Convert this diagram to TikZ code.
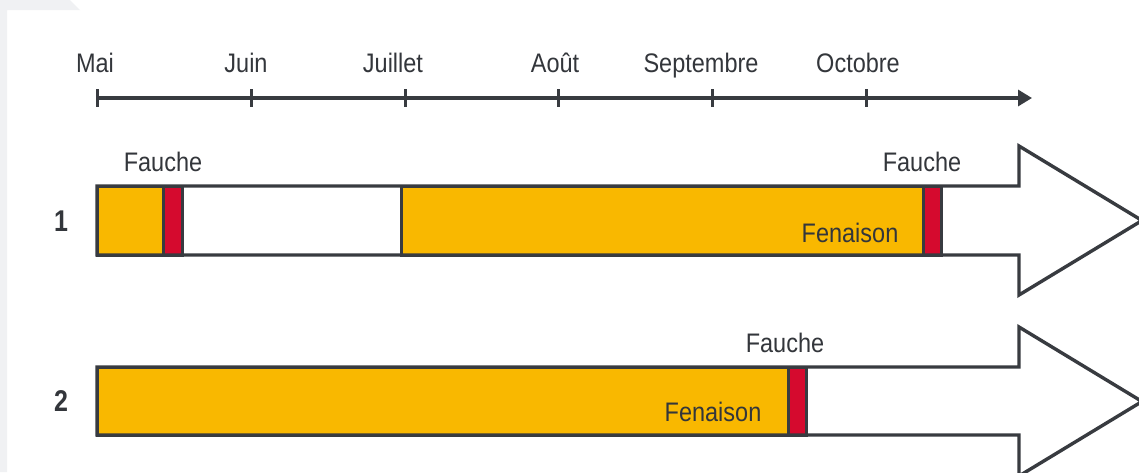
\documentclass[tikz,border=0pt]{standalone}
\usepackage{fontspec}
\setmainfont{Liberation Sans}
\usetikzlibrary{arrows.meta}
\definecolor{hay}{HTML}{F9B800}
\definecolor{cut}{HTML}{D50A2E}
\definecolor{ink}{HTML}{383B40}
\definecolor{txt}{HTML}{33363B}
\definecolor{frame}{HTML}{F0F1F3}
\newcommand{\lbl}[1]{\scalebox{1}[1.14]{#1}}
\tikzset{
  lab/.style={anchor=base, inner sep=0pt, text=txt, font=\fontsize{23.5}{28}\selectfont},
  num/.style={anchor=base, inner sep=0pt, text=txt, font=\fontsize{25}{30}\selectfont\bfseries},
  seg/.style={draw=ink, line width=3pt},
  outline/.style={draw=ink, line width=3.4pt, line join=miter},
  tick/.style={draw=ink, line width=3pt},
}
\begin{document}
\begin{tikzpicture}[x=1pt,y=-1pt]
\useasboundingbox (0,0) rectangle (1139,472);
\clip (0,0) rectangle (1139,472);
\fill[white] (0,0) rectangle (1139,472);
\fill[frame] (0,0) -- (70,0) -- (80,10) -- (7,10) -- (7,472) -- (0,472) -- cycle;

% time axis
\coordinate (a0) at (97,98);
\coordinate (aend) at (1032,98);
\draw[ink, line width=3.2pt, -{Triangle[length=14pt,width=16pt]}] (a0) -- (aend);
\foreach \x/\m/\c in {97/Mai/95, 251/Juin/246, 405/Juillet/393, 558/Août/555, 712/Septembre/701, 866/Octobre/858}{
  \draw[tick] (\x,89) -- (\x,107);
  \node[lab] (m-\m) at (\c,72) {\lbl{\m}};
}

% row 1
\fill[white] (97,186) -- (1019,186) -- (1019,146) -- (1142,220.5) -- (1019,295) -- (1019,255) -- (97,255) -- cycle;
\filldraw[seg, fill=hay] (97,186) rectangle (163,255);
\filldraw[seg, fill=cut] (163,186) rectangle (182,255);
\filldraw[seg, fill=hay] (401,186) rectangle (923,255);
\filldraw[seg, fill=cut] (923,186) rectangle (941,255);
\draw[outline] (97,186) -- (1019,186) -- (1019,146) -- (1142,220.5) -- (1019,295) -- (1019,255) -- (97,255) -- cycle;
\node[num] (n1) at (61,231) {\scalebox{1}[1.2]{1}};
\node[lab] (f1a) at (163,171) {\lbl{Fauche}};
\node[lab] (f1b) at (922,171) {\lbl{Fauche}};
\node[lab] (fen1) at (850,242) {\lbl{Fenaison}};

% row 2
\fill[white] (97,367) -- (1019,367) -- (1019,327) -- (1142,401.5) -- (1019,476) -- (1019,435) -- (97,435) -- cycle;
\filldraw[seg, fill=hay] (97,367) rectangle (788,435);
\filldraw[seg, fill=cut] (788,367) rectangle (806,435);
\draw[outline] (97,367) -- (1019,367) -- (1019,327) -- (1142,401.5) -- (1019,476) -- (1019,435) -- (97,435) -- cycle;
\node[num] (n2) at (61,411) {\scalebox{1}[1.2]{2}};
\node[lab] (f2) at (785,352) {\lbl{Fauche}};
\node[lab] (fen2) at (713,421) {\lbl{Fenaison}};
\end{tikzpicture}
\end{document}
